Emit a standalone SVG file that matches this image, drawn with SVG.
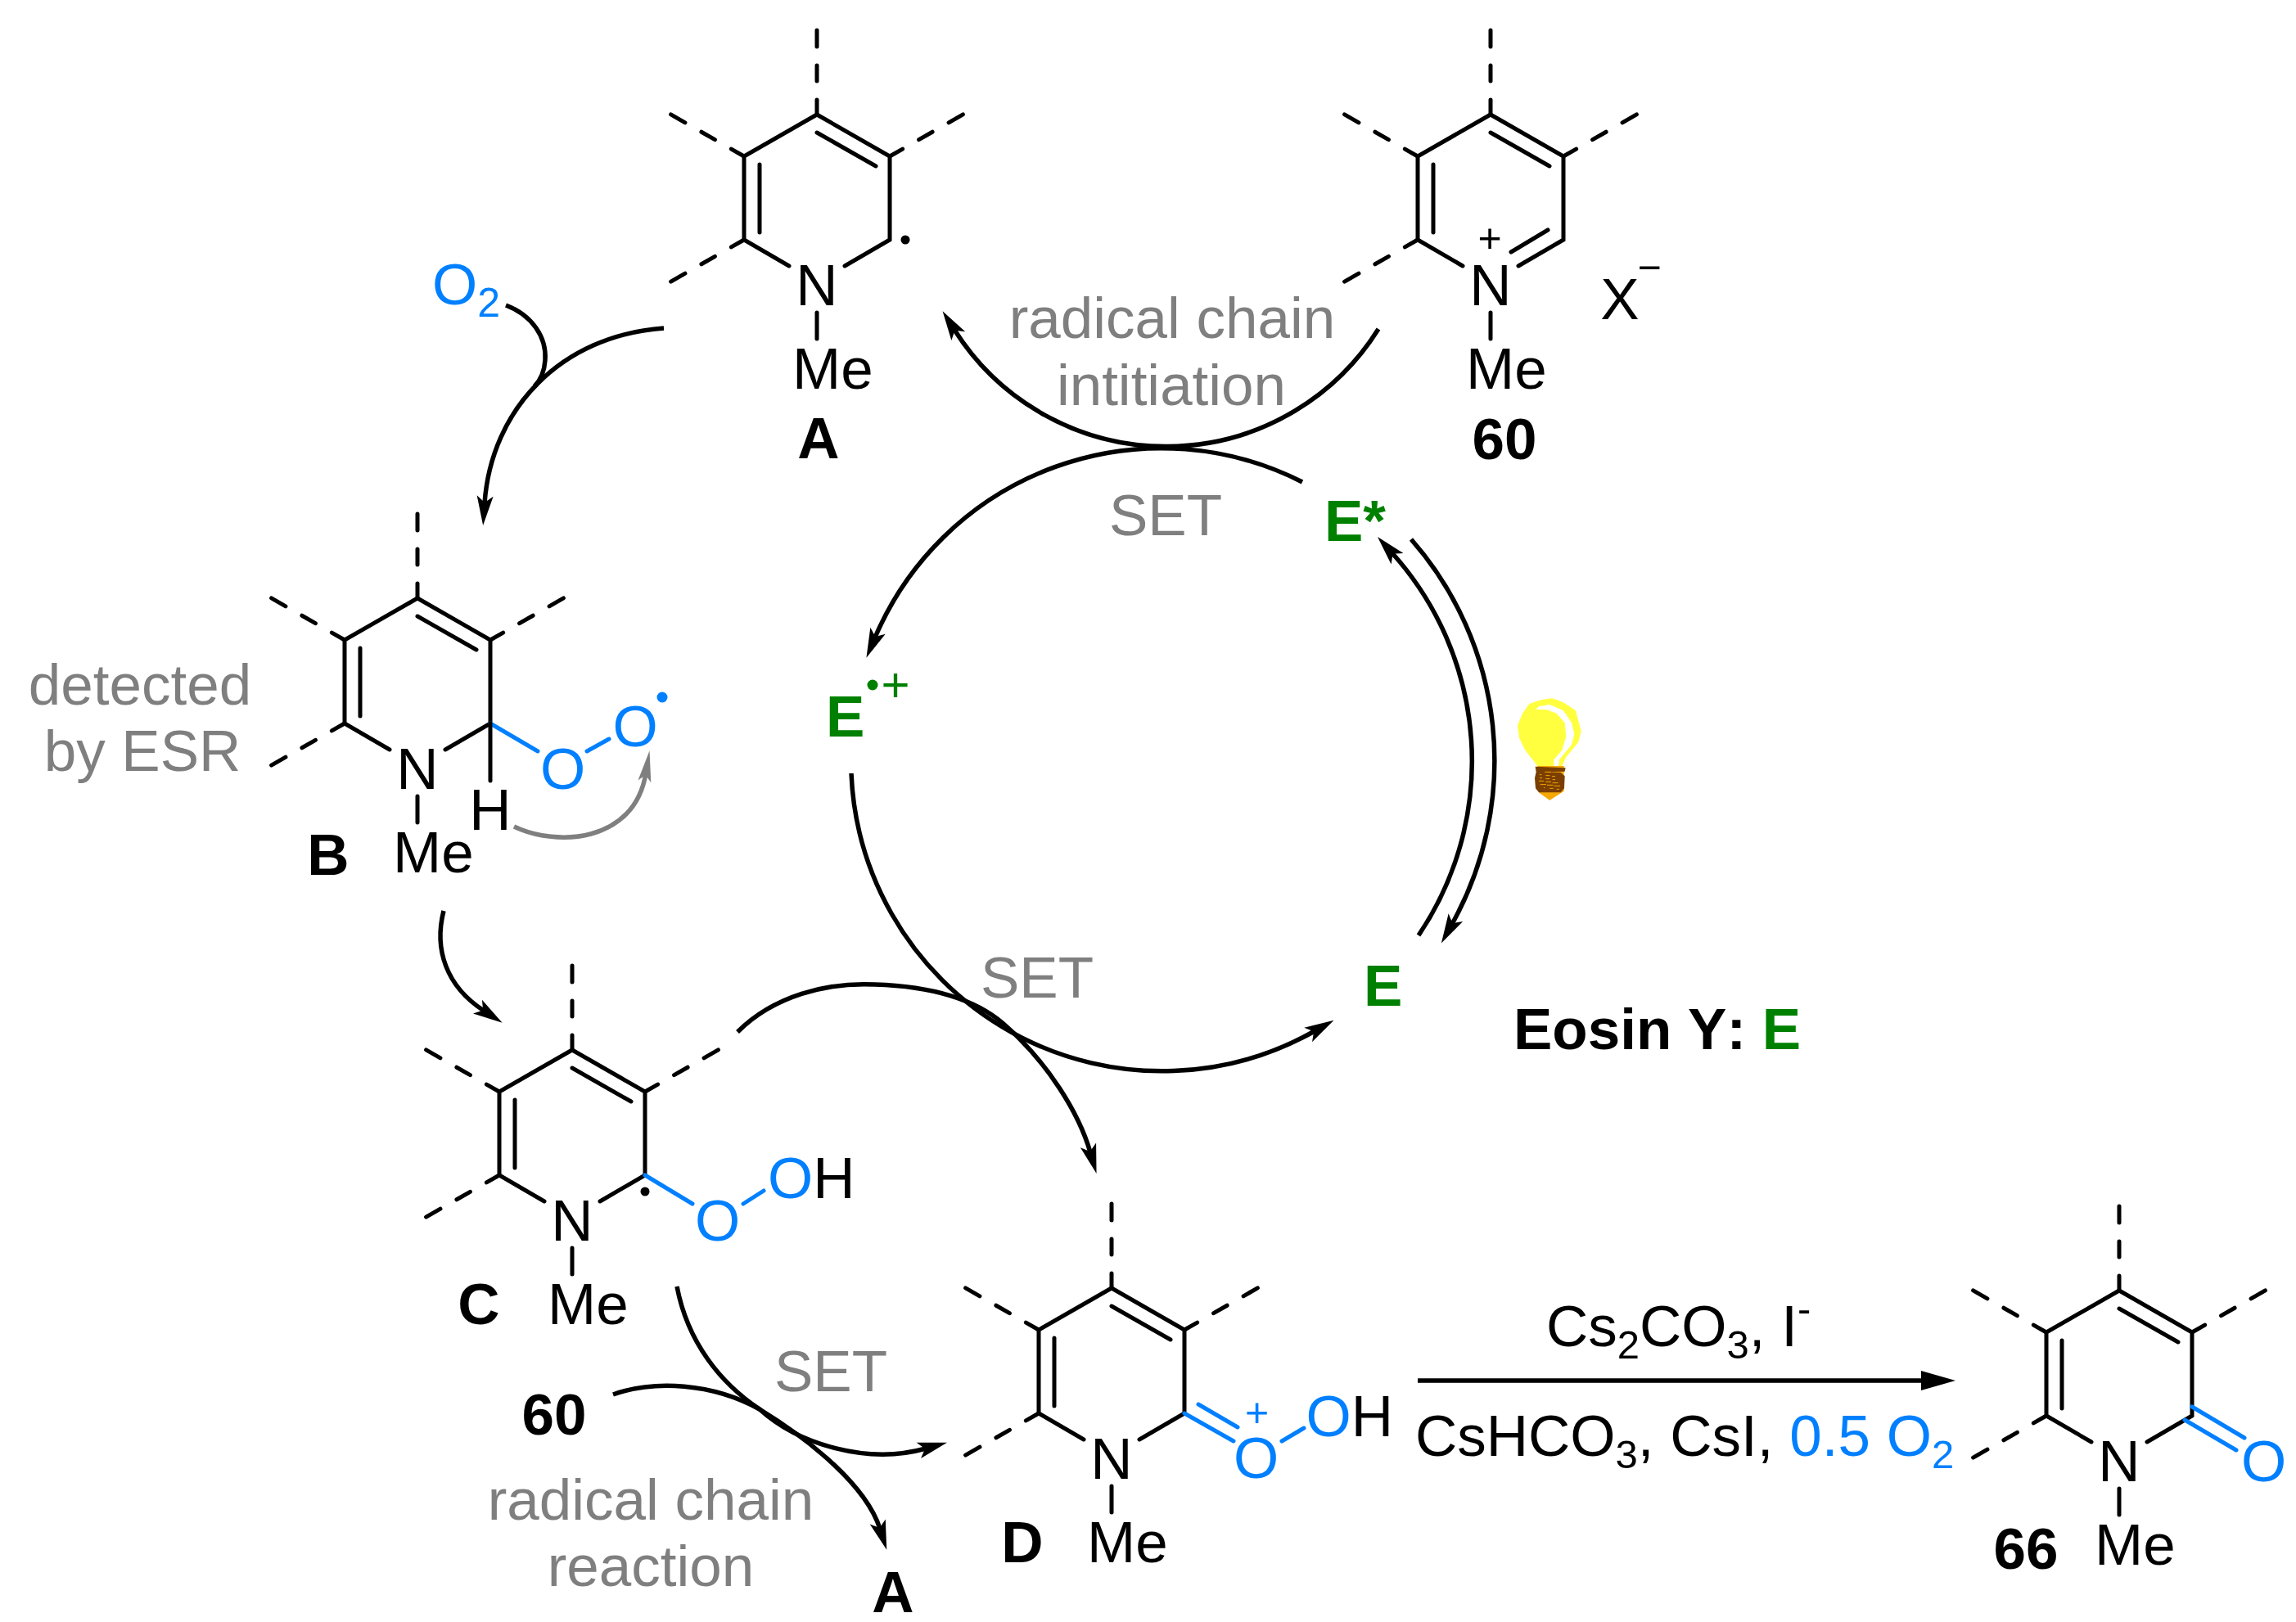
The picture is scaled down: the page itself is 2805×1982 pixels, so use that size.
<svg xmlns="http://www.w3.org/2000/svg" width="2805" height="1982" viewBox="0 0 2805 1982">
<style>
text{font-family:"Liberation Sans",Arial,sans-serif;font-size:71px;fill:#000;font-kerning:none}
.b{font-weight:700}
.g{fill:#7f7f7f}
.e{font-weight:700;fill:#008000}
.u{fill:#0080ff}
.m{text-anchor:middle}
.sm{font-size:50px}
.bond{fill:none;stroke:#000;stroke-width:5;stroke-linecap:round}
.dash{stroke-dasharray:18 23 19 23 20}
.blue{fill:none;stroke:#0080ff;stroke-width:5;stroke-linecap:round}
.arc{fill:none;stroke:#000;stroke-width:5.5;marker-end:url(#head)}
.plain{fill:none;stroke:#000;stroke-width:5.5}
</style>
<defs>
<marker id="head" markerUnits="userSpaceOnUse" markerWidth="40" markerHeight="24" viewBox="0 0 40 24" refX="11" refY="12" orient="auto">
<path d="M38,12 L2,2 L10,12 L2,22 Z" fill="#000"/>
</marker>
<marker id="headGray" markerUnits="userSpaceOnUse" markerWidth="44" markerHeight="24" viewBox="0 0 44 24" refX="12" refY="12" orient="auto">
<path d="M40,12 L2,4 L10,12 L2,20 Z" fill="#7f7f7f"/>
</marker>
<marker id="headBig" markerUnits="userSpaceOnUse" markerWidth="46" markerHeight="28" viewBox="0 0 46 28" refX="8" refY="14" orient="auto">
<path d="M44,14 L2,2 L2,26 Z" fill="#000"/>
</marker>
<g id="ring">
<path class="bond" d="M34,83 L89,51 L89,-51 L0,-102 L-89,-51 L-89,51 L-34,83"/>
<path class="bond" d="M-70,-41 L-70,42 M0,-80 L72,-39 M0,140 L0,172"/>
<path class="bond dash" d="M0,-102 L0,-205 M-89,-51 L-180,-103 M89,-51 L180,-103 M-89,51 L-180,103"/>
</g>
</defs>
<rect width="2805" height="1982" fill="#fff"/>

<g id="connectors">
<path class="plain" d="M1684,402 A306,306 0 0 1 1166,403" marker-end="url(#head)"/>
<path class="arc" d="M1591,589 A380,380 0 0 0 1069,779"/>
<path class="arc" d="M1040,945 A380,380 0 0 0 1606,1260"/>
<path class="arc" d="M1733,1143 A380,380 0 0 0 1701,676"/>
<path class="arc" d="M1724,659 A410,410 0 0 1 1774,1129"/>
<path class="arc" d="M811,401 C685,410 600,500 592,615"/>
<path class="plain" d="M618,373 C650,385 668,412 666,440 C665,455 660,465 653,472"/>
<path class="arc" d="M542,1113 C530,1160 545,1205 591,1235"/>
<path d="M628,1010 C680,1035 775,1030 789,945" fill="none" stroke="#7f7f7f" stroke-width="5.5" marker-end="url(#headGray)"/>
<path class="arc" d="M901,1261 C945,1217 1010,1200 1069,1203 C1135,1205 1190,1220 1226,1251 C1280,1298 1318,1360 1332,1408"/>
<path class="arc" d="M827,1572 C840,1640 880,1690 928,1722 C975,1765 1060,1790 1131,1770"/>
<path class="arc" d="M749,1704 C800,1686 870,1690 928,1722 C990,1760 1058,1815 1075,1868"/>
<path d="M1732,1687 L2353,1687" fill="none" stroke="#000" stroke-width="5.5" marker-end="url(#headBig)"/>
</g>

<g id="node-A">
<use href="#ring" transform="translate(998,242)"/>
<circle cx="1106" cy="293" r="5.5" fill="#000"/>
<text class="m" x="998" y="373">N</text>
<text x="968" y="475">Me</text>
<text class="b m" x="1000" y="560">A</text>
</g>

<g id="node-60">
<use href="#ring" transform="translate(1821,242)"/>
<path class="bond" d="M1891,281 L1846,308"/>
<text class="m sm" x="1820" y="308">+</text>
<text class="m" x="1821" y="373">N</text>
<text x="1791" y="475">Me</text>
<text class="m" x="1979" y="390">X</text>
<text class="m sm" x="2015" y="344">−</text>
<text class="b m" x="1838" y="561">60</text>
</g>

<g id="node-B">
<use href="#ring" transform="translate(510,833)"/>
<path class="blue" d="M599,884 L657,918 M717,918 L744,903"/>
<path class="bond" d="M599,884 L599,954"/>
<text class="m" x="510" y="964">N</text>
<text x="480" y="1066">Me</text>
<text class="m" x="599" y="1014">H</text>
<text class="m u" x="687.5" y="964">O</text>
<text class="m u" x="776" y="912">O</text>
<circle cx="809" cy="852" r="6.5" fill="#0080ff"/>
<text class="b m" x="401" y="1069">B</text>
</g>

<g id="node-C">
<use href="#ring" transform="translate(699,1385)"/>
<path class="blue" d="M788,1436 L846,1471 M908,1471 L933,1455"/>
<circle cx="788" cy="1456" r="5.5" fill="#000"/>
<text class="m" x="699" y="1516">N</text>
<text x="669" y="1618">Me</text>
<text class="m u" x="876.5" y="1516">O</text>
<text x="938" y="1464"><tspan class="u">O</tspan>H</text>
<text class="b m" x="585" y="1618">C</text>
</g>

<g id="node-D">
<use href="#ring" transform="translate(1358,1676)"/>
<path class="blue" d="M1447,1727 L1507,1761 M1464,1716 L1512,1744 M1566,1761 L1593,1745"/>
<text class="m" x="1358" y="1807">N</text>
<text x="1328" y="1909">Me</text>
<text class="m u" x="1534.5" y="1806">O</text>
<text class="m sm u" x="1535.5" y="1743">+</text>
<text x="1595.5" y="1755"><tspan class="u">O</tspan>H</text>
<text class="b m" x="1249" y="1909">D</text>
</g>

<g id="node-66">
<use href="#ring" transform="translate(2589,1679)"/>
<path class="blue" d="M2678,1719 L2742,1757 M2669,1735 L2732,1772"/>
<text class="m" x="2589" y="1810">N</text>
<text x="2559" y="1912">Me</text>
<text class="m u" x="2765.5" y="1810">O</text>
<text class="b m" x="2475" y="1917">66</text>
</g>

<g id="node-E-star"><text class="e" x="1618" y="661">E*</text></g>
<g id="node-E-radical">
<text class="e" x="1009" y="900">E</text>
<circle cx="1066" cy="837" r="6.5" fill="#008000"/>
<text class="m" x="1094" y="857" style="fill:#008000;font-size:60px">+</text>
</g>
<g id="node-E"><text class="e" x="1666" y="1229">E</text></g>
<g id="node-eosin"><text class="b" x="1849" y="1282">Eosin Y: <tspan class="e">E</tspan></text></g>

<g id="labels">
<text class="m g" x="1432" y="413">radical chain</text>
<text class="m g" x="1431" y="495">intitiation</text>
<text class="m g" x="1424" y="654">SET</text>
<text class="m g" x="1267" y="1219">SET</text>
<text class="m g" x="1015" y="1700">SET</text>
<text class="m g" x="171" y="861">detected</text>
<text class="m g" x="174" y="942">by ESR</text>
<text class="m g" x="795" y="1857">radical chain</text>
<text class="m g" x="795" y="1938">reaction</text>
<text x="528" y="372" class="u">O<tspan dy="15" style="font-size:50px">2</tspan></text>
<text class="b m" x="677" y="1753">60</text>
<text class="b m" x="1091" y="1970">A</text>
<text x="1889" y="1645">Cs<tspan dy="15" font-size="49">2</tspan><tspan dy="-15">CO</tspan><tspan dy="15" font-size="49">3</tspan><tspan dy="-15">, I</tspan><tspan dy="-29" font-size="49">-</tspan></text>
<text x="1729" y="1779">CsHCO<tspan dy="15" font-size="49">3</tspan><tspan dy="-15">, CsI, </tspan><tspan class="u">0.5 O</tspan><tspan class="u" dy="15" font-size="49">2</tspan></text>
</g>

<g id="bulb" transform="translate(1780,800) scale(.3333)">
<path fill="#ffff40" d="M295,408 L250,350 L228,305 L222,260 L240,215 L265,180 L310,165 L350,160 L390,175 L435,205 L447,250 L455,280 L445,320 L400,375 L385,408 Z"/>
<path fill="#fff" d="M288,200 L300,190 L340,183 L390,205 L420,250 L430,290 L420,330 L375,385 L372,408 L355,408 L355,385 L385,350 L400,300 L395,250 L365,215 L330,202 Z"/>
<path fill="#f5a800" d="M295,408 L392,408 L392,500 L340,533 L300,505 Z"/>
<path fill="#f5a800" d="M300,505 L380,505 L340,533 Z"/>
<path fill="#7a3f00" d="M287,410 L398,415 L395,428 L320,430 L380,432 L395,445 L393,490 L380,505 L300,505 L288,490 L285,452 L290,430 Z"/>
<path stroke="#f5a800" stroke-width="3" fill="none" d="M322,430 H345 M303,440 H310 M325,443 H340 M348,446 H360 M303,452 H312 M325,455 H340 M350,458 H360 M300,463 H318 M325,466 H345 M350,470 H370 M305,476 H327 M330,478 H352 M355,481 H378 M318,488 H322 M340,490 H353 M365,493 H375"/>
</g>
</svg>
